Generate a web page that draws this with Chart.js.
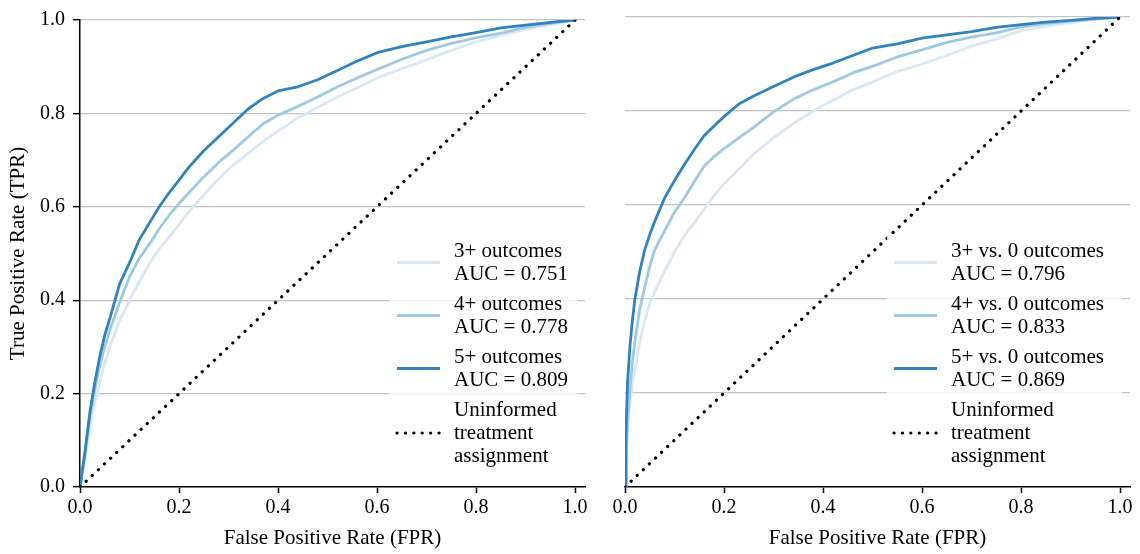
<!DOCTYPE html>
<html>
<head>
<meta charset="utf-8">
<script src="https://cdn.jsdelivr.net/npm/chart.js@4.4.1/dist/chart.umd.min.js"></script>
<style>
  html, body { margin: 0; padding: 0; background: #fff; }
  #wrap { position: relative; width: 1140px; height: 554px; }
  .panel { position: absolute; top: 0; height: 554px; }
  #left { left: 0; width: 600px; }
  #right { left: 600px; width: 540px; }
</style>
</head>
<body>
<div id="wrap">
  <div class="panel" id="left"><canvas id="rocLeft"></canvas></div>
  <div class="panel" id="right"><canvas id="rocRight"></canvas></div>
</div>
<script>
// ROC curves (FPR grid + TPR per model)
const fprLeft = [0, 0.01, 0.02, 0.03, 0.04, 0.05, 0.06, 0.08, 0.10, 0.12, 0.14, 0.16, 0.18, 0.20, 0.22, 0.25, 0.28, 0.31, 0.34, 0.37, 0.40, 0.44, 0.48, 0.52, 0.56, 0.60, 0.65, 0.70, 0.75, 0.80, 0.85, 0.90, 0.95, 1.0];
const tpr3Left = [0, 0.06, 0.13, 0.18, 0.225, 0.265, 0.30, 0.355, 0.40, 0.44, 0.478, 0.51, 0.535, 0.562, 0.59, 0.625, 0.66, 0.69, 0.715, 0.74, 0.762, 0.79, 0.813, 0.835, 0.855, 0.876, 0.896, 0.915, 0.935, 0.953, 0.967, 0.98, 0.99, 1.0];
const tpr4Left = [0, 0.07, 0.15, 0.21, 0.26, 0.30, 0.335, 0.395, 0.45, 0.49, 0.52, 0.553, 0.582, 0.607, 0.63, 0.664, 0.695, 0.722, 0.75, 0.778, 0.796, 0.815, 0.835, 0.857, 0.876, 0.894, 0.916, 0.935, 0.95, 0.962, 0.972, 0.984, 0.993, 1.0];
const tpr5Left = [0, 0.075, 0.16, 0.225, 0.28, 0.325, 0.36, 0.435, 0.48, 0.53, 0.565, 0.60, 0.63, 0.657, 0.685, 0.72, 0.75, 0.78, 0.81, 0.832, 0.848, 0.857, 0.872, 0.892, 0.912, 0.93, 0.943, 0.953, 0.964, 0.973, 0.983, 0.989, 0.995, 1.0];

const fprRight = [0, 0.002, 0.005, 0.01, 0.015, 0.02, 0.03, 0.04, 0.05, 0.06, 0.08, 0.10, 0.12, 0.14, 0.16, 0.18, 0.20, 0.23, 0.26, 0.30, 0.34, 0.38, 0.42, 0.46, 0.50, 0.55, 0.60, 0.65, 0.70, 0.75, 0.80, 0.85, 0.90, 0.95, 1.0];
const tpr3Right = [0, 0.06, 0.12, 0.18, 0.22, 0.25, 0.31, 0.355, 0.39, 0.415, 0.46, 0.50, 0.535, 0.562, 0.592, 0.62, 0.645, 0.676, 0.709, 0.743, 0.773, 0.80, 0.823, 0.845, 0.862, 0.884, 0.90, 0.918, 0.938, 0.953, 0.971, 0.98, 0.988, 0.995, 1.0];
const tpr4Right = [0, 0.06, 0.14, 0.21, 0.265, 0.31, 0.38, 0.425, 0.47, 0.505, 0.545, 0.585, 0.615, 0.65, 0.683, 0.703, 0.72, 0.743, 0.765, 0.798, 0.825, 0.845, 0.862, 0.881, 0.895, 0.915, 0.93, 0.946, 0.957, 0.966, 0.979, 0.986, 0.991, 0.996, 1.0];
const tpr5Right = [0, 0.12, 0.22, 0.30, 0.355, 0.40, 0.46, 0.505, 0.537, 0.565, 0.615, 0.652, 0.686, 0.718, 0.748, 0.768, 0.788, 0.815, 0.832, 0.852, 0.872, 0.888, 0.902, 0.918, 0.934, 0.943, 0.955, 0.962, 0.969, 0.978, 0.984, 0.989, 0.993, 0.997, 1.0];

// chance diagonal
const diagX = [0, 1];
const diagY = [0, 1];

const xTicks = [0, 0.2, 0.4, 0.6, 0.8, 1.0];
const yTicks = [0, 0.2, 0.4, 0.6, 0.8, 1.0];

const legendLeft = [["3+ outcomes", "AUC = 0.751"], ["4+ outcomes", "AUC = 0.778"], ["5+ outcomes", "AUC = 0.809"]];
const legendRight = [["3+ vs. 0 outcomes", "AUC = 0.796"], ["4+ vs. 0 outcomes", "AUC = 0.833"], ["5+ vs. 0 outcomes", "AUC = 0.869"]];
const legendDiag = ["Uninformed", "treatment", "assignment"];

const COLORS = ["#dae8f5", "#9ecae1", "#3182bd"];
const SERIF = "'Liberation Serif', 'DejaVu Serif', serif";
const TICK_FONT = { family: SERIF, size: 20, lineHeight: 1.2 };
const TITLE_FONT = { family: SERIF, size: 21, lineHeight: 1.2 };

const toPoints = (xs, ys) => xs.map((x, i) => ({ x, y: ys[i] }));

// legend in a white rounded box, lower right of the axes
const boxLegend = {
  id: "boxLegend",
  afterDraw(chart) {
    const { ctx, chartArea } = chart;
    const sets = chart.data.datasets;
    const opts = chart.options.plugins.boxLegend;
    const lineH = 23, gap = 7;
    ctx.save();
    ctx.font = `21px ${SERIF}`;
    let nLines = 0;
    sets.forEach(ds => { nLines += ds.legendLines.length; });
    const width = opts.width;
    const height = 17 + (nLines - 1) * lineH + (sets.length - 1) * gap + 14;
    const right = chartArea.right - 8;
    const bottom = chartArea.bottom - 17;
    const left = right - width;
    const top = bottom - height;
    ctx.fillStyle = "rgba(255,255,255,0.8)";
    ctx.beginPath();
    ctx.roundRect(left, top, width, height, 4);
    ctx.fill();

    let y = top + 17;
    sets.forEach(ds => {
      const n = ds.legendLines.length;
      const sy = y + (n - 1) * lineH / 2;
      ctx.strokeStyle = ds.borderColor;
      ctx.lineWidth = ds.borderWidth;
      ctx.lineCap = ds.borderCapStyle || "butt";
      ctx.setLineDash(ds.borderDash || []);
      ctx.beginPath();
      ctx.moveTo(left + 7, sy);
      ctx.lineTo(left + 50, sy);
      ctx.stroke();
      ctx.setLineDash([]);
      ctx.fillStyle = "#000";
      ctx.textBaseline = "middle";
      ctx.textAlign = "left";
      ds.legendLines.forEach((t, k) => ctx.fillText(t, left + 64, y + k * lineH));
      y += n * lineH + gap;
    });
    ctx.restore();
  }
};

function renderRoc(canvasId, fpr, tprs, labels, cfg) {
  const curves = tprs.map((tpr, i) => ({
    data: toPoints(fpr, tpr),
    borderColor: COLORS[i],
    backgroundColor: COLORS[i],
    borderWidth: 2.8,
    borderJoinStyle: "round",
    pointRadius: 0,
    tension: 0,
    fill: false,
    order: 3 - i,
    legendLines: labels[i],
  }));
  curves.push({
    data: toPoints(diagX, diagY),
    borderColor: "#000",
    borderWidth: 3.2,
    borderDash: [0.1, 8.3],
    borderCapStyle: "round",
    pointRadius: 0,
    fill: false,
    order: 0,
    legendLines: legendDiag,
  });

  return new Chart(document.getElementById(canvasId), {
    type: "line",
    data: { datasets: curves },
    plugins: [boxLegend],
    options: {
      responsive: true,
      maintainAspectRatio: false,
      animation: false,
      layout: { padding: { top: 17, right: cfg.padRight, bottom: 0, left: 0 } },
      plugins: {
        legend: { display: false },
        tooltip: { enabled: false },
        boxLegend: { width: cfg.legendWidth },
      },
      scales: {
        x: {
          type: "linear",
          min: 0,
          max: 1.02,
          afterBuildTicks: s => { s.ticks = xTicks.map(v => ({ value: v })); },
          afterFit: s => { s.height = 67; },
          ticks: { padding: 3, color: "#000", font: TICK_FONT, maxRotation: 0, autoSkip: false, callback: v => v.toFixed(1) },
          grid: { drawOnChartArea: false, drawTicks: true, tickLength: 6, tickColor: "#000", tickWidth: 1.5 },
          border: { display: true, color: "#000", width: 1.5 },
          title: { display: true, text: "False Positive Rate (FPR)", color: "#000", font: TITLE_FONT, padding: { top: 0, bottom: 3 } },
        },
        y: {
          type: "linear",
          min: 0,
          max: 1,
          afterBuildTicks: s => { s.ticks = yTicks.map(v => ({ value: v })); },
          afterFit: s => { s.width = cfg.yWidth; },
          ticks: { display: cfg.showY, padding: 8, color: "#000", font: TICK_FONT, callback: v => v.toFixed(1) },
          grid: {
            color: ctx => (ctx.tick && ctx.tick.value === 0 ? "rgba(0,0,0,0)" : "#c4c4c4"),
            lineWidth: 1.3,
            drawTicks: cfg.showY,
            tickLength: 7,
            tickColor: "#000",
            tickWidth: 1.5,
          },
          border: { display: cfg.showY, color: "#000", width: 1.5 },
          title: { display: cfg.showY, text: "True Positive Rate (TPR)", color: "#000", font: TITLE_FONT, padding: { top: 6, bottom: 0 } },
        },
      },
    },
  });
}

renderRoc("rocLeft", fprLeft, [tpr3Left, tpr4Left, tpr5Left], legendLeft, { showY: true, yWidth: 80, padRight: 15, legendWidth: 187 });
renderRoc("rocRight", fprRight, [tpr3Right, tpr4Right, tpr5Right], legendRight, { showY: false, yWidth: 25, padRight: 10, legendWidth: 235 });
</script>
</body>
</html>
